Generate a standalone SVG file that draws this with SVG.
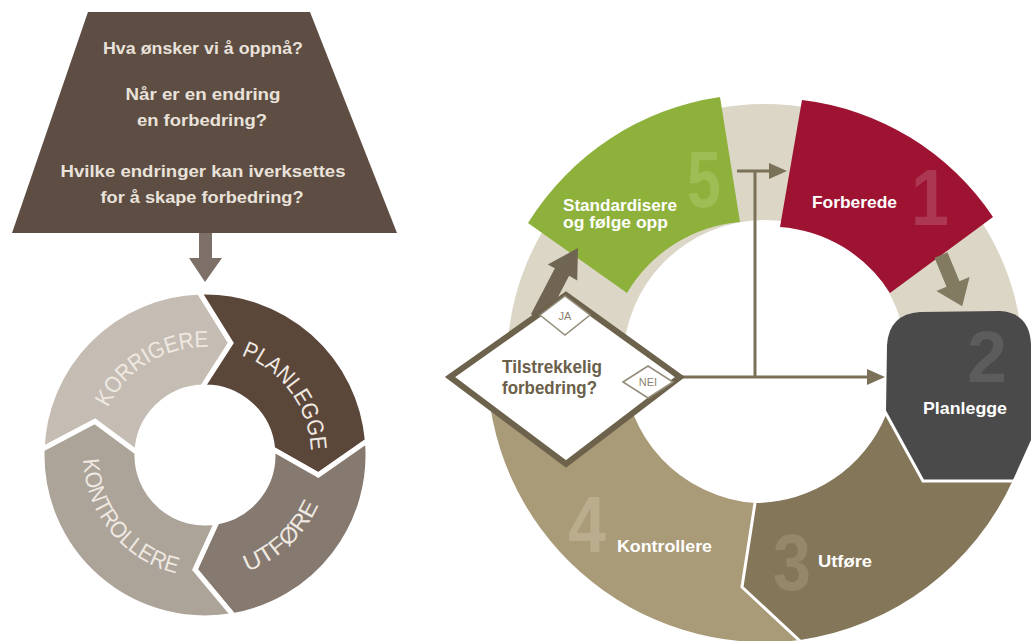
<svg xmlns="http://www.w3.org/2000/svg" xmlns:xlink="http://www.w3.org/1999/xlink" width="1033" height="641" viewBox="0 0 1033 641">
<style>
.t{font-family:"Liberation Sans","DejaVu Sans",sans-serif;font-weight:bold}
.trap{fill:#e9e2da;font-size:17px;text-anchor:middle}
.ring{fill:#efe9e2;font-size:23px;font-weight:normal}
.lbl{fill:#ffffff;font-size:17px}
.num{font-size:80px}
.seg{stroke:#ffffff;stroke-width:5;stroke-linejoin:miter}
.conn{stroke:#7b7158;stroke-width:3;fill:none}
.small{fill:#ffffff;stroke:#948c7a;stroke-width:1.5}
.smalltxt{fill:#8a826f;font-size:11px;font-weight:normal;text-anchor:middle}
.q{fill:#6b6049;font-size:18px}
</style>
<defs>
<marker id="ah" markerWidth="18" markerHeight="16" refX="0" refY="8" orient="auto" markerUnits="userSpaceOnUse">
<path d="M0,0 L18,8 L0,16 Z" fill="#7b7158"/>
</marker>
<path id="pKor" d="M 107.9 407.7 A 108 108 0 0 1 208.8 347.1"/>
<path id="pPla" d="M 241.3 355.4 A 106 106 0 0 1 310.9 451.3"/>
<path id="pUtf" d="M 247.4 571.5 A 124 124 0 0 0 319.1 503.4"/>
<path id="pKon" d="M 83.1 459.3 A 122 122 0 0 0 179.6 574.3"/>
</defs>
<rect width="1033" height="641" fill="#ffffff"/>

<!-- LEFT: question trapezoid -->
<g id="questions">
<path d="M 88 12 L 310 12 L 397 233 L 12 233 Z" fill="#5d4d43"/>
<text class="t trap" x="203" y="54" textLength="200" lengthAdjust="spacingAndGlyphs">Hva ønsker vi å oppnå?</text>
<text class="t trap" x="203" y="100" textLength="155" lengthAdjust="spacingAndGlyphs">Når er en endring</text>
<text class="t trap" x="202" y="126" textLength="130" lengthAdjust="spacingAndGlyphs">en forbedring?</text>
<text class="t trap" x="203" y="177" textLength="285" lengthAdjust="spacingAndGlyphs">Hvilke endringer kan iverksettes</text>
<text class="t trap" x="202" y="203" textLength="203" lengthAdjust="spacingAndGlyphs">for å skape forbedring?</text>
</g>

<!-- LEFT ring -->
<g id="korrigere">
<path class="seg" fill="#c5bdb3" d="M 42.1 449.3 A 163 163 0 0 1 199.3 292.1 L 230.9 342.9 L 202.6 387.0 A 68 68 0 0 0 137.0 452.6 L 95.0 421.4 Z"/>
<text class="t ring"><textPath xlink:href="#pKor" href="#pKor" textLength="124" lengthAdjust="spacingAndGlyphs">KORRIGERE</textPath></text>
</g>
<g id="planlegge-left">
<path class="seg" fill="#5b463a" d="M 199.3 292.1 A 163 163 0 0 1 367.4 440.8 L 318.3 475.0 L 272.7 449.1 A 68 68 0 0 0 202.6 387.0 L 230.9 342.9 Z"/>
<text class="t ring"><textPath xlink:href="#pPla" href="#pPla" textLength="125" lengthAdjust="spacingAndGlyphs">PLANLEGGE</textPath></text>
</g>
<g id="utfore-left">
<path class="seg" fill="#867970" d="M 367.4 440.8 A 163 163 0 0 1 233.3 615.5 L 195.0 569.6 L 216.8 522.0 A 68 68 0 0 0 272.7 449.1 L 318.3 475.0 Z"/>
<text class="t ring"><textPath xlink:href="#pUtf" href="#pUtf" textLength="100" lengthAdjust="spacingAndGlyphs">UTFØRE</textPath></text>
</g>
<g id="kontrollere-left">
<path class="seg" fill="#aca399" d="M 233.3 615.5 A 163 163 0 0 1 42.1 449.3 L 95.0 421.4 L 137.0 452.6 A 68 68 0 0 0 216.8 522.0 L 195.0 569.6 Z"/>
<text class="t ring"><textPath xlink:href="#pKon" href="#pKon" textLength="158" lengthAdjust="spacingAndGlyphs">KONTROLLERE</textPath></text>
</g>

<!-- RIGHT ring background band -->
<g id="band">
<path fill="#dcd6c7" fill-rule="evenodd" d="M 507 362 A 258 258 0 1 0 1023 362 A 258 258 0 1 0 507 362 Z M 623 362 A 142 142 0 1 0 907 362 A 142 142 0 1 0 623 362 Z"/>
</g>

<g id="kontrollere">
<path fill="#a99a78" d="M 800 640 A 278 278 0 0 1 487 362 L 623 362 A 142 142 0 0 0 755 503 L 742 587 Z"/>
<text class="t num" x="587" y="552" fill="#b9ad8e" text-anchor="middle" textLength="38" lengthAdjust="spacingAndGlyphs">4</text>
<text class="t lbl" x="617" y="552" textLength="95" lengthAdjust="spacingAndGlyphs">Kontrollere</text>
</g>
<g id="utfore">
<path fill="#847659" d="M 886 415 L 923 480 L 1013 480 A 278 278 0 0 1 800 640 L 742 587 L 755 503 A 142 142 0 0 0 886 415 Z"/>
<text class="t num" x="792" y="590" fill="#958869" text-anchor="middle" textLength="38" lengthAdjust="spacingAndGlyphs">3</text>
<text class="t lbl" x="818" y="567" textLength="54" lengthAdjust="spacingAndGlyphs">Utføre</text>
</g>
<g id="planlegge">
<path fill="#4a4a4a" d="M 886 412 L 887 345 Q 889 314 920 312 L 1000 311 Q 1030 313 1031 345 L 1031 440 L 1013 480 L 923 480 Z"/>
<text class="t num" x="987" y="382" fill="#5c5c5c" text-anchor="middle" textLength="40" lengthAdjust="spacingAndGlyphs" style="font-size:72px">2</text>
<text class="t lbl" x="923" y="414" textLength="84" lengthAdjust="spacingAndGlyphs">Planlegge</text>
</g>
<g id="forberede">
<path fill="#9d1331" d="M 802 100 A 268 268 0 0 1 993 217 L 890 293 A 142 142 0 0 0 780 227 Z"/>
<text class="t num" x="930" y="225" fill="#ab3753" text-anchor="middle" textLength="38" lengthAdjust="spacingAndGlyphs">1</text>
<text class="t lbl" x="812" y="208" fill="#f7e8ec" textLength="85" lengthAdjust="spacingAndGlyphs">Forberede</text>
</g>
<g id="standardisere">
<path fill="#8db13a" d="M 528 223 A 272 272 0 0 1 720 97 L 740 222 A 145 145 0 0 0 627 293 Z"/>
<text class="t num" x="704" y="207" fill="#9ebd55" text-anchor="middle" textLength="34" lengthAdjust="spacingAndGlyphs">5</text>
<text class="t lbl" x="563" y="211" fill="#f4f7e4" textLength="114" lengthAdjust="spacingAndGlyphs">Standardisere</text>
<text class="t lbl" x="563" y="228" fill="#f4f7e4" textLength="105" lengthAdjust="spacingAndGlyphs">og følge opp</text>
</g>

<!-- connectors -->
<g id="connectors">
<polyline points="884,410 923,481 1015,481" fill="none" stroke="#ffffff" stroke-width="3"/>
<polyline points="755,503 742,587 800,641" fill="none" stroke="#ffffff" stroke-width="3"/>
<path d="M 199 233 L 212 233 L 212 258 L 222 258 L 205 282 L 189 258 L 199 258 Z" fill="#7d7069"/>
<path d="M 947.5 252.3 L 934.5 257.7 L 946.5 286.7 L 936.4 290.9 L 962.2 306.2 L 969.6 277.1 L 959.5 281.3 Z" fill="#837a62"/>
<path d="M 545.1 321.7 L 530.9 314.3 L 554.9 268.3 L 547.8 264.6 L 578 248 L 577.2 280.4 L 569.1 275.7 Z" fill="#6f6552"/>
<path class="conn" d="M 737 171 L 769 171" marker-end="url(#ah)"/>
<path class="conn" d="M 755 171 L 755 377"/>
<path class="conn" d="M 680 377 L 867 377" marker-end="url(#ah)"/>
</g>

<g id="decision">
<path d="M 450 377 L 566 295 L 680 377 L 566 464 Z" fill="#ffffff" stroke="#6d634c" stroke-width="6" stroke-linejoin="miter"/>
<path class="small" d="M 540 315 L 565 296 L 590 315 L 565 335 Z"/>
<text class="t smalltxt" x="565" y="320">JA</text>
<path class="small" d="M 623 382 L 648 366 L 673 382 L 648 398 Z"/>
<text class="t smalltxt" x="648" y="386">NEI</text>
<text class="t q" x="502" y="373" textLength="100" lengthAdjust="spacingAndGlyphs">Tilstrekkelig</text>
<text class="t q" x="502" y="394" textLength="95" lengthAdjust="spacingAndGlyphs">forbedring?</text>
</g>
</svg>
